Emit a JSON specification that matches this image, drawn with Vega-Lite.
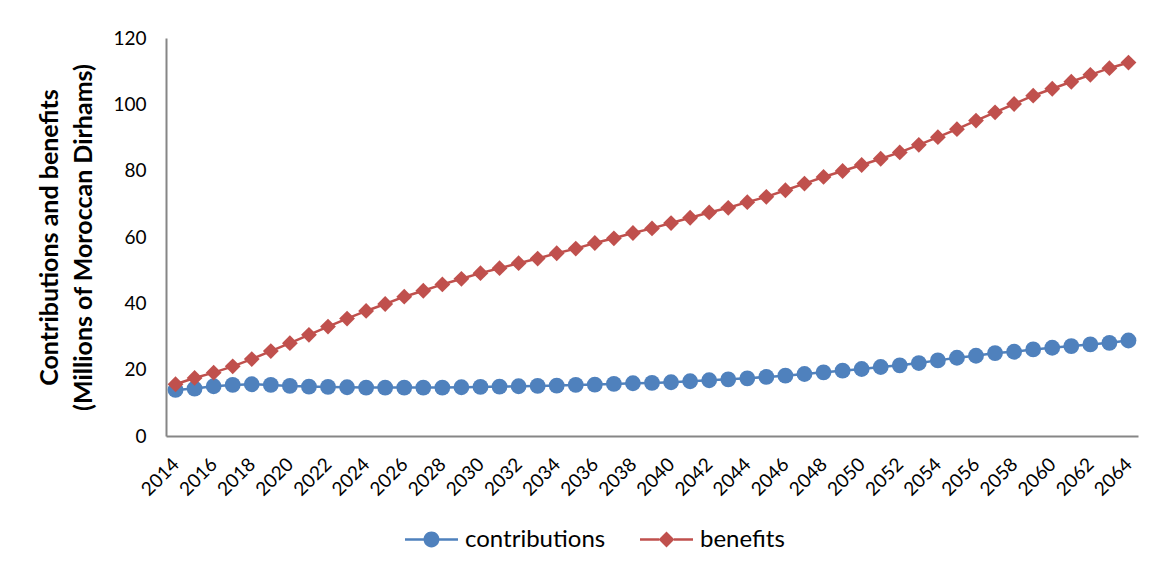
{
  "$schema": "https://vega.github.io/schema/vega-lite/v6.json",
  "width": 972,
  "height": 398,
  "autosize": {"type": "none"},
  "padding": {"left": 166, "top": 38, "right": 30, "bottom": 138},
  "background": "white",
  "config": {
    "view": {"stroke": null},
    "font": "Lato",
    "axis": {"grid": false, "ticks": false, "domainColor": "#868686", "domainWidth": 2, "labelColor": "#000000", "titleColor": "#000000"},
    "legend": {"title": null, "orient": "none", "labelFontSize": 24, "labelColor": "#000000", "labelOffset": 7, "symbolSize": 2809, "symbolStrokeWidth": 0, "symbolOpacity": 1}
  },
  "data": {
    "values": [
      {"year": 2014, "contributions": 13.9, "benefits": 15.6},
      {"year": 2015, "contributions": 14.3, "benefits": 17.5},
      {"year": 2016, "contributions": 15.0, "benefits": 19.1},
      {"year": 2017, "contributions": 15.4, "benefits": 21.0},
      {"year": 2018, "contributions": 15.6, "benefits": 23.2},
      {"year": 2019, "contributions": 15.4, "benefits": 25.6},
      {"year": 2020, "contributions": 15.1, "benefits": 28.0},
      {"year": 2021, "contributions": 14.9, "benefits": 30.5},
      {"year": 2022, "contributions": 14.8, "benefits": 33.0},
      {"year": 2023, "contributions": 14.7, "benefits": 35.4},
      {"year": 2024, "contributions": 14.6, "benefits": 37.7},
      {"year": 2025, "contributions": 14.6, "benefits": 39.8},
      {"year": 2026, "contributions": 14.6, "benefits": 42.0},
      {"year": 2027, "contributions": 14.6, "benefits": 43.8},
      {"year": 2028, "contributions": 14.6, "benefits": 45.7},
      {"year": 2029, "contributions": 14.7, "benefits": 47.4},
      {"year": 2030, "contributions": 14.8, "benefits": 49.1},
      {"year": 2031, "contributions": 14.9, "benefits": 50.6},
      {"year": 2032, "contributions": 15.0, "benefits": 52.1},
      {"year": 2033, "contributions": 15.1, "benefits": 53.5},
      {"year": 2034, "contributions": 15.2, "benefits": 55.1},
      {"year": 2035, "contributions": 15.4, "benefits": 56.5},
      {"year": 2036, "contributions": 15.5, "benefits": 58.2},
      {"year": 2037, "contributions": 15.7, "benefits": 59.6},
      {"year": 2038, "contributions": 15.9, "benefits": 61.2},
      {"year": 2039, "contributions": 16.0, "benefits": 62.6},
      {"year": 2040, "contributions": 16.2, "benefits": 64.2},
      {"year": 2041, "contributions": 16.5, "benefits": 65.8},
      {"year": 2042, "contributions": 16.8, "benefits": 67.4},
      {"year": 2043, "contributions": 17.1, "benefits": 68.8},
      {"year": 2044, "contributions": 17.4, "benefits": 70.5},
      {"year": 2045, "contributions": 17.8, "benefits": 72.1},
      {"year": 2046, "contributions": 18.2, "benefits": 74.1},
      {"year": 2047, "contributions": 18.7, "benefits": 76.1},
      {"year": 2048, "contributions": 19.2, "benefits": 78.1},
      {"year": 2049, "contributions": 19.7, "benefits": 79.9},
      {"year": 2050, "contributions": 20.2, "benefits": 81.7},
      {"year": 2051, "contributions": 20.8, "benefits": 83.6},
      {"year": 2052, "contributions": 21.3, "benefits": 85.5},
      {"year": 2053, "contributions": 22.0, "benefits": 87.8},
      {"year": 2054, "contributions": 22.8, "benefits": 90.1},
      {"year": 2055, "contributions": 23.6, "benefits": 92.5},
      {"year": 2056, "contributions": 24.2, "benefits": 95.1},
      {"year": 2057, "contributions": 25.0, "benefits": 97.6},
      {"year": 2058, "contributions": 25.4, "benefits": 100.1},
      {"year": 2059, "contributions": 26.1, "benefits": 102.6},
      {"year": 2060, "contributions": 26.6, "benefits": 104.7},
      {"year": 2061, "contributions": 27.1, "benefits": 106.8},
      {"year": 2062, "contributions": 27.6, "benefits": 108.9},
      {"year": 2063, "contributions": 28.1, "benefits": 110.9},
      {"year": 2064, "contributions": 28.8, "benefits": 112.6}
    ]
  },
  "transform": [{"fold": ["contributions", "benefits"], "as": ["series", "value"]}],
  "encoding": {
    "x": {
      "field": "year",
      "type": "ordinal",
      "scale": {"type": "point", "padding": 0.5},
      "axis": {
        "title": null,
        "values": [2014, 2016, 2018, 2020, 2022, 2024, 2026, 2028, 2030, 2032, 2034, 2036, 2038, 2040, 2042, 2044, 2046, 2048, 2050, 2052, 2054, 2056, 2058, 2060, 2062, 2064],
        "labelAngle": -45,
        "labelAlign": "right",
        "labelBaseline": "middle",
        "labelFontSize": 19,
        "labelPadding": 25
      }
    },
    "y": {
      "field": "value",
      "type": "quantitative",
      "scale": {"domain": [0, 120], "nice": false},
      "axis": {
        "values": [0, 20, 40, 60, 80, 100, 120],
        "labelFontSize": 19,
        "labelPadding": 20,
        "title": ["Contributions and benefits", "(Millions of Moroccan Dirhams)"],
        "titleFontSize": 25,
        "titleFontWeight": "bold",
        "titleLineHeight": 34,
        "titlePadding": 16
      }
    }
  },
  "layer": [
    {
      "transform": [{"filter": "datum.series === 'contributions'"}],
      "encoding": {
        "color": {
          "field": "series",
          "type": "nominal",
          "scale": {"domain": ["contributions"], "range": ["#4F81BD"]},
          "legend": {
            "legendX": 239,
            "legendY": 475,
            "symbolFillColor": "#4F81BD",
            "symbolType": "M-1,-0.047L-0.28,-0.047L-0.28,0.047L-1,0.047Z M0.28,-0.047L1,-0.047L1,0.047L0.28,0.047Z M-0.3,0A0.3,0.3 0 1,1 0.3,0A0.3,0.3 0 1,1 -0.3,0Z"
          }
        }
      },
      "layer": [
        {"mark": {"type": "line", "strokeWidth": 2.5}},
        {"mark": {"type": "point", "shape": "circle", "filled": true, "size": 250, "opacity": 1}}
      ]
    },
    {
      "transform": [{"filter": "datum.series === 'benefits'"}],
      "encoding": {
        "color": {
          "field": "series",
          "type": "nominal",
          "scale": {"domain": ["benefits"], "range": ["#C0504D"]},
          "legend": {
            "legendX": 474,
            "legendY": 475,
            "symbolFillColor": "#C0504D",
            "symbolType": "M-1,-0.047L-0.28,-0.047L-0.28,0.047L-1,0.047Z M0.28,-0.047L1,-0.047L1,0.047L0.28,0.047Z M0,-0.3L0.3,0L0,0.3L-0.3,0Z"
          }
        }
      },
      "layer": [
        {"mark": {"type": "line", "strokeWidth": 2.5}},
        {"mark": {"type": "point", "shape": "diamond", "filled": true, "size": 250, "opacity": 1}}
      ]
    }
  ],
  "resolve": {"scale": {"color": "independent"}, "legend": {"color": "independent"}}
}
